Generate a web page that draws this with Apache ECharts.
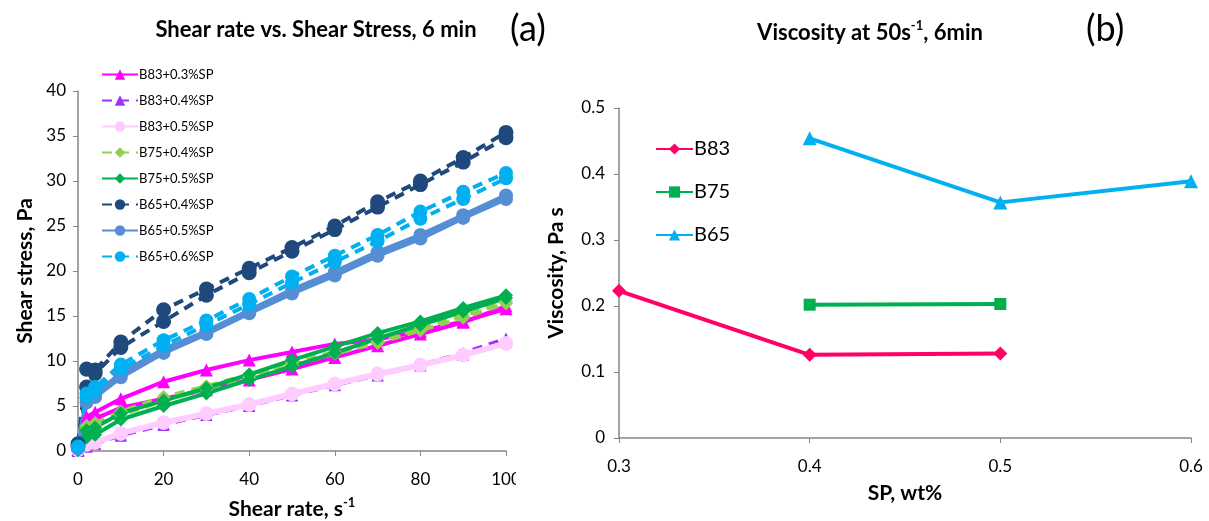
<!DOCTYPE html>
<html>
<head>
<meta charset="utf-8">
<script src="https://cdn.jsdelivr.net/npm/echarts@6/dist/echarts.min.js"></script>
<style>
html,body{margin:0;padding:0;background:#fff;}
#wrap{position:relative;width:1209px;height:521px;overflow:hidden;}
#ca{position:absolute;left:0;top:0;width:516px;height:521px;}
#cb{position:absolute;left:480px;top:0;width:729px;height:521px;}
</style>
</head>
<body>
<div id="wrap"><div id="ca"></div><div id="cb"></div></div>
<script>
// ---- Chart (a): shear stress vs shear rate (up / down sweeps) ----
var shearRate = [0, 2, 4, 10, 20, 30, 40, 50, 60, 70, 80, 90, 100];
var yTicksA = [0, 5, 10, 15, 20, 25, 30, 35, 40];
var xTicksA = [0, 20, 40, 60, 80, 100];

var B83_03_up   = [0.2, 3.8, 4.3, 5.8, 7.7, 9.0, 10.1, 11.0, 11.9, 12.4, 13.3, 14.4, 15.8];
var B83_03_down = [0.1, 3.2, 3.6, 4.8, 5.8, 6.8, 7.9, 9.1, 10.4, 11.7, 13.0, 14.3, 16.1];
var B83_04_up   = [0.0, 0.5, 0.8, 1.8, 3.0, 4.0, 5.1, 6.2, 7.4, 8.5, 9.6, 10.9, 12.5];
var B83_04_down = [0.0, 0.5, 0.8, 1.7, 2.9, 4.0, 5.0, 6.2, 7.3, 8.4, 9.5, 10.7, 12.1];
var B83_05_up   = [0.1, 0.8, 1.0, 2.0, 3.2, 4.2, 5.2, 6.4, 7.5, 8.6, 9.6, 10.7, 12.0];
var B83_05_down = [0.1, 0.7, 0.9, 1.9, 3.1, 4.1, 5.1, 6.3, 7.4, 8.5, 9.5, 10.6, 11.9];
var B75_04_up   = [0.2, 2.8, 3.1, 4.4, 6.0, 7.2, 8.5, 9.8, 11.0, 12.2, 13.6, 15.0, 16.6];
var B75_04_down = [0.2, 2.5, 2.8, 4.0, 5.6, 6.9, 8.2, 9.5, 10.8, 12.0, 13.4, 14.8, 16.4];
var B75_05_up   = [0.1, 2.3, 2.6, 4.2, 5.6, 7.0, 8.5, 10.1, 11.6, 13.1, 14.4, 15.9, 17.3];
var B75_05_down = [0.1, 1.5, 1.8, 3.5, 5.0, 6.4, 7.9, 9.4, 10.9, 12.5, 14.0, 15.5, 17.0];
var B65_04_up   = [0.8, 9.1, 9.0, 12.1, 15.7, 18.0, 20.3, 22.6, 25.0, 27.7, 30.0, 32.6, 35.4];
var B65_04_down = [0.5, 7.1, 8.6, 11.5, 14.4, 17.3, 19.8, 22.2, 24.6, 27.1, 29.6, 32.1, 34.8];
var B65_05_up   = [0.4, 5.8, 6.3, 8.6, 11.3, 13.3, 15.6, 17.9, 19.9, 22.1, 24.0, 26.2, 28.4];
var B65_05_down = [0.3, 5.4, 6.0, 8.2, 10.9, 13.0, 15.3, 17.5, 19.5, 21.7, 23.6, 25.9, 28.0];
var B65_06_up   = [0.5, 6.4, 7.1, 9.6, 12.3, 14.5, 16.9, 19.4, 21.7, 24.0, 26.6, 28.8, 30.9];
var B65_06_down = [0.4, 6.0, 6.7, 9.1, 11.7, 14.0, 16.3, 18.7, 21.0, 23.3, 25.8, 28.0, 30.3];

var namesA = ['B83+0.3%SP','B83+0.4%SP','B83+0.5%SP','B75+0.4%SP','B75+0.5%SP','B65+0.4%SP','B65+0.5%SP','B65+0.6%SP'];

// ---- Chart (b): viscosity at 50 1/s ----
var spB83 = [0.3, 0.4, 0.5];
var viscB83 = [0.223, 0.126, 0.128];
var spB75 = [0.4, 0.5];
var viscB75 = [0.202, 0.203];
var spB65 = [0.4, 0.5, 0.6];
var viscB65 = [0.454, 0.357, 0.389];
var namesB = ['B83', 'B75', 'B65'];

var FONT = 'Lato, "Open Sans", sans-serif';
var AXIS = '#868686';

function pairs(xs, ys){ return xs.map(function(x,i){ return [x, ys[i]]; }); }

var stylesA = [
  {c:'#FF00FF', dash:false, sym:'triangle', sz:13, w:4,   up:B83_03_up, down:B83_03_down},
  {c:'#9933FF', dash:true,  sym:'triangle', sz:12, w:3.5, up:B83_04_up, down:B83_04_down},
  {c:'#FFCCFF', dash:false, sym:'circle',   sz:14, w:5,   up:B83_05_up, down:B83_05_down},
  {c:'#92D050', dash:true,  sym:'diamond',  sz:14, w:4,   up:B75_04_up, down:B75_04_down},
  {c:'#00B050', dash:false, sym:'diamond',  sz:14, w:4,   up:B75_05_up, down:B75_05_down},
  {c:'#1F497D', dash:true,  sym:'circle',   sz:15, w:4,   up:B65_04_up, down:B65_04_down},
  {c:'#558ED5', dash:false, sym:'circle',   sz:14, w:4.5, up:B65_05_up, down:B65_05_down},
  {c:'#00B0F0', dash:true,  sym:'circle',   sz:14, w:4,   up:B65_06_up, down:B65_06_down}
];

var seriesA = [];
stylesA.forEach(function(s, i){
  [s.up, s.down].forEach(function(arr){
    seriesA.push({
      name: namesA[i], type: 'line', data: pairs(shearRate, arr),
      symbol: s.sym, symbolSize: s.sz, showSymbol: true,
      itemStyle: {color: s.c},
      lineStyle: {color: s.c, width: s.w, type: s.dash ? [10, 7] : 'solid'}
    });
  });
});

var chartA = echarts.init(document.getElementById('ca'), null, {renderer: 'canvas'});
chartA.setOption({
  animation: false,
  textStyle: {fontFamily: FONT},
  title: {
    text: 'Shear rate vs. Shear Stress, 6 min',
    left: 311, top: 14, textAlign: 'center',
    textStyle: {fontFamily: FONT, fontWeight: 'bold', fontSize: 22, color: '#000'}
  },
  legend: {
    orient: 'vertical', left: 96, top: 62,
    itemWidth: 36, itemHeight: 13, itemGap: 11,
    data: namesA,
    textStyle: {fontFamily: FONT, fontSize: 13, color: '#000', lineHeight: 15, padding: [0,0,0,-4]}
  },
  grid: {left: 78, right: 10, top: 91, bottom: 70, containLabel: false, outerBoundsMode: 'none'},
  xAxis: {
    type: 'value', min: xTicksA[0], max: xTicksA[xTicksA.length-1], interval: xTicksA[1]-xTicksA[0],
    name: '{a|Shear rate, s}{s|-1}', nameLocation: 'middle', nameGap: 45,
    nameTextStyle: {rich: {
      a: {fontFamily: FONT, fontWeight: 'bold', fontSize: 21, color: '#000', lineHeight: 26},
      s: {fontFamily: FONT, fontWeight: 'bold', fontSize: 13, color: '#000', lineHeight: 14, verticalAlign: 'top'}
    }},
    axisLine: {lineStyle: {color: AXIS, width: 1.5}},
    axisTick: {show: true, length: 5, inside: false, lineStyle: {color: AXIS}},
    axisLabel: {fontFamily: FONT, fontSize: 17, color: '#000', margin: 20},
    splitLine: {show: false}
  },
  yAxis: {
    type: 'value', min: yTicksA[0], max: yTicksA[yTicksA.length-1], interval: yTicksA[1]-yTicksA[0],
    name: 'Shear stress, Pa', nameLocation: 'middle', nameGap: 42, nameRotate: 90,
    nameTextStyle: {fontFamily: FONT, fontWeight: 'bold', fontSize: 21, color: '#000'},
    axisLine: {show: true, lineStyle: {color: AXIS, width: 1.5}},
    axisTick: {show: true, length: 5, lineStyle: {color: AXIS}},
    axisLabel: {fontFamily: FONT, fontSize: 17, color: '#000', margin: 12},
    splitLine: {show: false}
  },
  series: seriesA
});

var stylesB = [
  {c:'#FF0066', sym:'diamond',  sz:14, xs:spB83, ys:viscB83},
  {c:'#00B050', sym:'rect',     sz:12, xs:spB75, ys:viscB75},
  {c:'#00B0F0', sym:'triangle', sz:14, xs:spB65, ys:viscB65}
];
var seriesB = stylesB.map(function(s, i){
  return {
    name: namesB[i], type: 'line', data: pairs(s.xs, s.ys),
    symbol: s.sym, symbolSize: s.sz,
    itemStyle: {color: s.c},
    lineStyle: {color: s.c, width: 4}
  };
});

// chart B container starts at x=480 (transparent canvas overlapping chart A)
var chartB = echarts.init(document.getElementById('cb'), null, {renderer: 'canvas'});
chartB.setOption({
  animation: false,
  textStyle: {fontFamily: FONT},
  title: {
    text: '{a|Viscosity at 50s}{s|-1}{a|, 6min}',
    left: 385, top: 14, textAlign: 'center',
    textStyle: {rich: {
      a: {fontFamily: FONT, fontWeight: 'bold', fontSize: 22, color: '#000', lineHeight: 28},
      s: {fontFamily: FONT, fontWeight: 'bold', fontSize: 13, color: '#000', lineHeight: 15, verticalAlign: 'top'}
    }}
  },
  graphic: [
    {type: 'text', left: 30, top: 11, style: {text: '(a)', fontFamily: FONT, fontSize: 36, fill: '#000'}},
    {type: 'text', left: 606, top: 11, style: {text: '(b)', fontFamily: FONT, fontSize: 36, fill: '#000'}}
  ],
  legend: {
    orient: 'vertical', left: 170, top: 133,
    itemWidth: 37, itemHeight: 14, itemGap: 21,
    data: namesB,
    textStyle: {fontFamily: FONT, fontSize: 20, color: '#000', lineHeight: 22, padding: [0,0,0,-4]}
  },
  grid: {left: 139, right: 18, top: 108, bottom: 83, containLabel: false, outerBoundsMode: 'none'},
  xAxis: {
    type: 'value', min: 0.3, max: 0.6, interval: 0.1,
    name: 'SP, wt%', nameLocation: 'middle', nameGap: 45,
    nameTextStyle: {fontFamily: FONT, fontWeight: 'bold', fontSize: 21, color: '#000'},
    axisLine: {lineStyle: {color: AXIS, width: 1.5}},
    axisTick: {show: true, length: 5, lineStyle: {color: AXIS}},
    axisLabel: {fontFamily: FONT, fontSize: 17, color: '#000', margin: 20,
      formatter: function(v){ return v.toFixed(1); }},
    splitLine: {show: false}
  },
  yAxis: {
    type: 'value', min: 0, max: 0.5, interval: 0.1,
    name: 'Viscosity, Pa s', nameLocation: 'middle', nameGap: 52, nameRotate: 90,
    nameTextStyle: {fontFamily: FONT, fontWeight: 'bold', fontSize: 21, color: '#000'},
    axisLine: {show: true, lineStyle: {color: AXIS, width: 1.5}},
    axisTick: {show: true, length: 5, lineStyle: {color: AXIS}},
    axisLabel: {fontFamily: FONT, fontSize: 17, color: '#000', margin: 14,
      formatter: function(v){ return v === 0 ? '0' : v.toFixed(1); }},
    splitLine: {show: false}
  },
  series: seriesB
});
</script>
</body>
</html>
